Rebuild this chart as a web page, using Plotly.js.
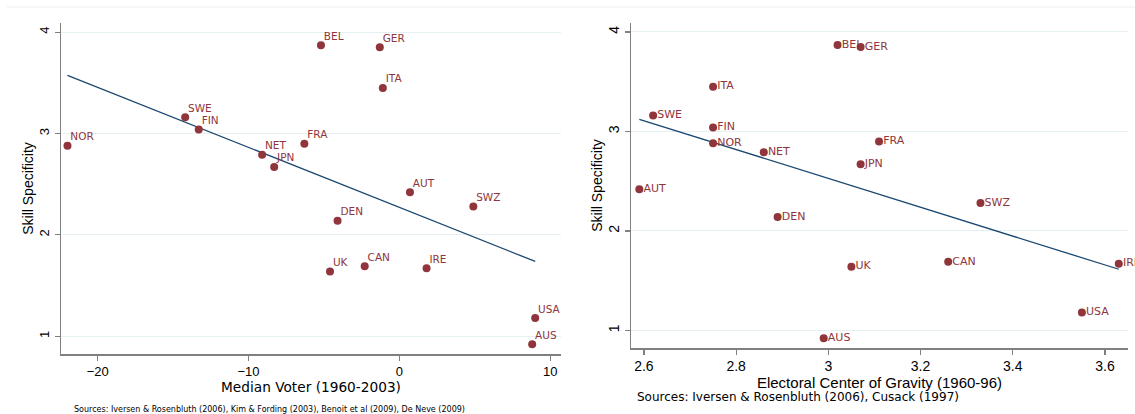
<!DOCTYPE html>
<html>
<head>
<meta charset="utf-8">
<script src="https://cdn.plot.ly/plotly-3.0.1.min.js"></script>
<style>html,body{margin:0;padding:0;background:#fff;}#chart{width:1135px;height:414px;}</style>
</head>
<body>
<div id="chart"></div>
<script>
// ---- data ----
const countries = ["BEL","GER","ITA","SWE","FIN","NOR","FRA","NET","JPN","AUT","SWZ","DEN","UK","CAN","IRE","USA","AUS"];
const skillSpecificity = [3.87,3.85,3.45,3.16,3.04,2.88,2.90,2.79,2.67,2.42,2.28,2.14,1.64,1.69,1.67,1.18,0.92];
const medianVoter = [-5.2,-1.3,-1.1,-14.2,-13.3,-22.0,-6.3,-9.1,-8.3,0.7,4.9,-4.1,-4.6,-2.3,1.8,9.0,8.8];
const centerGravity = [3.02,3.07,2.75,2.62,2.75,2.75,3.11,2.86,3.07,2.59,3.33,2.89,3.05,3.26,3.63,3.55,2.99];
const leftXTicks = [-20,-10,0,10];
const rightXTicks = [2.6,2.8,3,3.2,3.4,3.6];
const yTicks = [1,2,3,4];
const leftXTitle = "Median Voter (1960-2003)";
const rightXTitle = "Electoral Center of Gravity (1960-96)";
const yTitle = "Skill Specificity";
const leftSources = "Sources: Iversen & Rosenbluth (2006), Kim & Fording (2003), Benoit et al (2009), De Neve (2009)";
const rightSources = "Sources: Iversen & Rosenbluth (2006), Cusack (1997)";

// ---- OLS fit ----
function ols(x, y) {
  const n = x.length;
  const mx = x.reduce((a,b)=>a+b,0)/n, my = y.reduce((a,b)=>a+b,0)/n;
  let sxy = 0, sxx = 0;
  for (let i=0;i<n;i++){ sxy += (x[i]-mx)*(y[i]-my); sxx += (x[i]-mx)*(x[i]-mx); }
  const b = sxy/sxx, a = my - b*mx;
  const xs = [Math.min(...x), Math.max(...x)];
  return {x: xs, y: xs.map(v => a + b*v)};
}
const fitL = ols(medianVoter, skillSpecificity);
const fitR = ols(centerGravity, skillSpecificity);

const red = "#90353B";
const navy = "#1A476F";
const fontFam = "Liberation Sans, Arial, sans-serif";
const labelFam = "DejaVu Sans, Verdana, sans-serif";
const labelFont = {family: labelFam, size: 10.5, color: red};

const traces = [
  {x: fitL.x, y: fitL.y, xaxis: "x", yaxis: "y", mode: "lines", line: {color: navy, width: 1.3}, hoverinfo: "skip"},
  {x: medianVoter, y: skillSpecificity, xaxis: "x", yaxis: "y", mode: "markers",
   marker: {color: red, size: 8}, cliponaxis: false},
  {x: medianVoter, y: skillSpecificity, text: countries, xaxis: "x", yaxis: "y", mode: "markers+text",
   textposition: "top right", textfont: labelFont, cliponaxis: false,
   marker: {color: "rgba(0,0,0,0)", size: 3}},
  {x: fitR.x, y: fitR.y, xaxis: "x2", yaxis: "y2", mode: "lines", line: {color: navy, width: 1.3}, hoverinfo: "skip"},
  {x: centerGravity, y: skillSpecificity, text: countries, xaxis: "x2", yaxis: "y2", mode: "markers+text",
   textposition: "middle right", textfont: {family: labelFam, size: 11, color: red}, cliponaxis: false,
   marker: {color: "rgba(0,0,0,0)", size: 5}},
  {x: centerGravity, y: skillSpecificity, xaxis: "x2", yaxis: "y2", mode: "markers",
   marker: {color: red, size: 8}, cliponaxis: false}
];

const W = 1135, H = 414;
const axisCommon = {
  showline: true, linecolor: "#808080", linewidth: 1.5, ticks: "outside", ticklen: 5,
  tickcolor: "#808080", tickwidth: 1.2, zeroline: false, automargin: false, mirror: false
};

const layout = {
  width: W, height: H, showlegend: false,
  paper_bgcolor: "#fff", plot_bgcolor: "#fff",
  margin: {l: 0, r: 0, t: 0, b: 0},
  xaxis: Object.assign({}, axisCommon, {
    domain: [61/W, 561/W], range: [-22.43, 10.71], tickvals: leftXTicks,
    showgrid: false, tickfont: {family: fontFam, size: 13, color: "#000"},
    title: {text: leftXTitle, font: {family: labelFam, size: 13.7, color: "#000"}, standoff: 3},
    anchor: "y"
  }),
  yaxis: Object.assign({}, axisCommon, {
    domain: [1-354/H, 1-23/H], range: [0.825, 4.09], tickvals: yTicks, tickangle: -90,
    showgrid: true, gridcolor: "#E6EFF1", gridwidth: 1,
    tickfont: {family: fontFam, size: 13, color: "#000"},
    title: {text: yTitle, font: {family: fontFam, size: 14, color: "#000"}, standoff: 0},
    anchor: "x"
  }),
  xaxis2: Object.assign({}, axisCommon, {
    domain: [631/W, 1128/W], range: [2.572, 3.65], tickvals: rightXTicks,
    showgrid: false, tickfont: {family: fontFam, size: 14, color: "#000"},
    title: {text: rightXTitle, font: {family: fontFam, size: 15, color: "#000"}, standoff: 0},
    anchor: "y2"
  }),
  yaxis2: Object.assign({}, axisCommon, {
    domain: [1-348/H, 1-23/H], range: [0.823, 4.09], tickvals: yTicks, tickangle: -90,
    showgrid: true, gridcolor: "#E6EFF1", gridwidth: 1,
    tickfont: {family: fontFam, size: 14, color: "#000"},
    title: {text: yTitle, font: {family: fontFam, size: 14, color: "#000"}, standoff: 0},
    anchor: "x2"
  }),
  shapes: [
    {type: "line", xref: "paper", yref: "paper", x0: 0.006, x1: 1, y0: 1-7/H, y1: 1-7/H,
     line: {color: "#EEEEEE", width: 1}}
  ],
  annotations: [
    {text: leftSources, xref: "paper", yref: "paper", x: 72/W, y: 1-409/H, xanchor: "left", yanchor: "middle",
     showarrow: false, font: {family: labelFam, size: 8.0, color: "#000"}},
    {text: rightSources, xref: "paper", yref: "paper", x: 635/W, y: 1-397/H, xanchor: "left", yanchor: "middle",
     showarrow: false, font: {family: labelFam, size: 12, color: "#000"}}
  ]
};

Plotly.newPlot("chart", traces, layout, {displayModeBar: false, staticPlot: true});
</script>
</body>
</html>
